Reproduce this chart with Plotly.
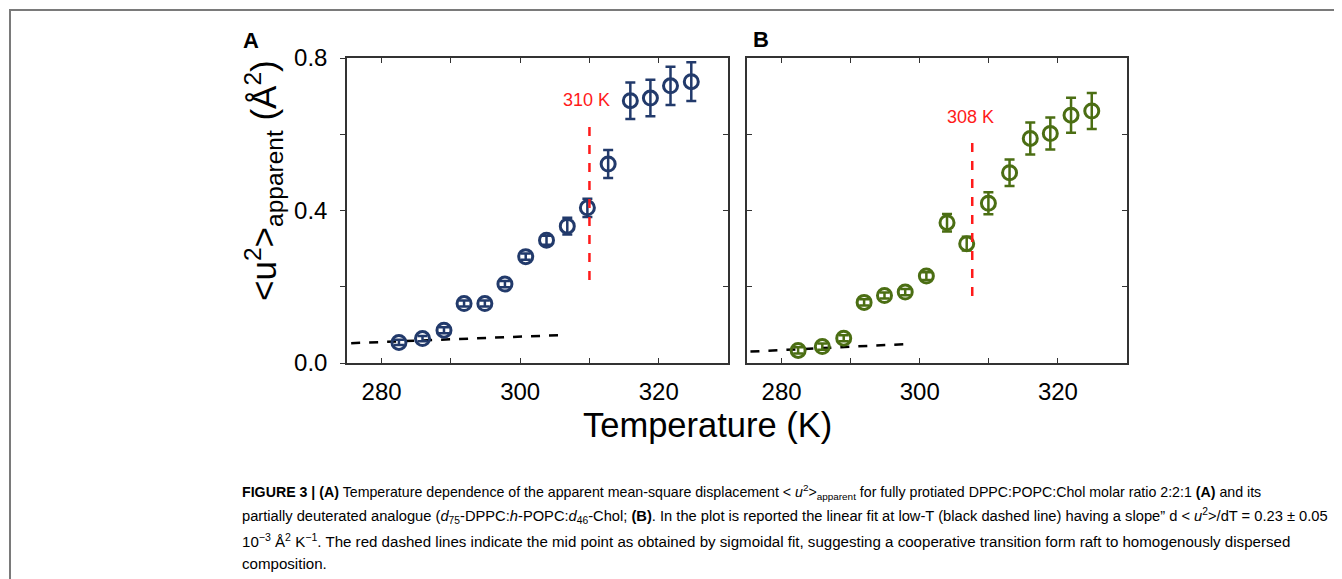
import plotly.graph_objects as go

# ---------------- data ----------------
T_A = [282.5, 285.9, 289.0, 291.9, 294.9, 297.8, 300.8, 303.8, 306.8, 309.7, 312.7, 315.9, 318.8, 321.7, 324.7]
U_A = [0.054, 0.064, 0.086, 0.156, 0.156, 0.207, 0.279, 0.322, 0.359, 0.407, 0.522, 0.688, 0.695, 0.727, 0.738]
E_A = [0.007, 0.007, 0.008, 0.008, 0.008, 0.008, 0.008, 0.012, 0.022, 0.024, 0.037, 0.048, 0.048, 0.050, 0.051]

T_B = [282.4, 285.9, 289.0, 291.95, 294.9, 297.9, 300.96, 303.95, 306.8, 309.94, 313.0, 316.0, 318.9, 321.9, 324.9]
U_B = [0.033, 0.043, 0.065, 0.159, 0.177, 0.186, 0.228, 0.368, 0.313, 0.419, 0.499, 0.589, 0.602, 0.650, 0.661]
E_B = [0.008, 0.008, 0.008, 0.008, 0.008, 0.008, 0.010, 0.023, 0.018, 0.029, 0.035, 0.042, 0.042, 0.046, 0.047]

FIT_A_T = [275.6, 305.5]
FIT_A_U = [0.052, 0.073]
FIT_B_T = [275.5, 298.4]
FIT_B_U = [0.030, 0.050]

MID_A_T = 310.0
MID_A_U = [0.218, 0.633]
MID_B_T = 307.6
MID_B_U = [0.176, 0.592]
MID_A_LABEL = "310 K"
MID_B_LABEL = "308 K"
LABEL_A_POS = (309.6, 0.690)
LABEL_B_POS = (307.4, 0.646)

X_TICKS = [280, 290, 300, 310, 320, 330]
X_TICKTEXT = ["280", "", "300", "", "320", ""]
Y_TICKS = [0.0, 0.2, 0.4, 0.6, 0.8]
Y_TICKTEXT = ["0.0", "", "0.4", "", "0.8"]

# ---------------- styling ----------------
OFF = 8                     # default page body margin
W, H = 1342 - OFF, 579 - OFF
COL_A = "#223a6b"
COL_B = "#4b6e13"
RED = "#ff1a1a"
AX = "#333333"
FONT = "Liberation Sans, Arial, sans-serif"


def px_x(p):
    return (p - OFF) / W


def px_y(p):
    return 1 - (p - OFF) / H


fig = go.Figure()


def add_panel(T, U, E, col, xa, ya, fitT, fitU, midT, midU, label, lpos):
    fig.add_trace(go.Scatter(x=fitT, y=fitU, mode="lines", xaxis=xa, yaxis=ya,
                             line=dict(color="black", width=2.5, dash="dash"),
                             showlegend=False, hoverinfo="skip"))
    fig.add_trace(go.Scatter(x=T, y=U, mode="markers", xaxis=xa, yaxis=ya,
                             error_y=dict(type="data", array=E, visible=True,
                                          color=col, thickness=2.5, width=5),
                             marker=dict(symbol="circle-open", size=14, color=col,
                                         line=dict(width=3, color=col)),
                             showlegend=False))
    fig.add_trace(go.Scatter(x=[midT, midT], y=midU, mode="lines", xaxis=xa, yaxis=ya,
                             line=dict(color=RED, width=2.5, dash="dash"),
                             showlegend=False, hoverinfo="skip"))
    fig.add_annotation(x=lpos[0], y=lpos[1], xref=xa, yref=ya, text=label,
                       xanchor="center", yanchor="middle",
                       showarrow=False, font=dict(family=FONT, size=18, color=RED))


add_panel(T_A, U_A, E_A, COL_A, "x", "y", FIT_A_T, FIT_A_U, MID_A_T, MID_A_U,
          MID_A_LABEL, LABEL_A_POS)
add_panel(T_B, U_B, E_B, COL_B, "x2", "y2", FIT_B_T, FIT_B_U, MID_B_T, MID_B_U,
          MID_B_LABEL, LABEL_B_POS)
# invisible trace to anchor the right-side tick axis of panel A
fig.add_trace(go.Scatter(x=[X_TICKS[0]], y=[Y_TICKS[0]], xaxis="x", yaxis="y3",
                         mode="markers", marker=dict(opacity=0), showlegend=False,
                         hoverinfo="skip"))

ydom = [px_y(363), px_y(58)]
xcommon = dict(range=[275, 330], tickvals=X_TICKS, ticktext=X_TICKTEXT,
               showline=True, linecolor=AX, linewidth=1.5, ticks="inside",
               ticklen=5, tickcolor=AX, tickwidth=1.2, mirror="ticks",
               showgrid=False, zeroline=False, automargin=False,
               tickfont=dict(family=FONT, size=24, color="black"),
               ticklabelstandoff=6)
ycommon = dict(range=[0, 0.8], tickvals=Y_TICKS, showline=True, linecolor=AX,
               linewidth=1.5, ticklen=5, tickcolor=AX, tickwidth=1.2,
               showgrid=False, zeroline=False, domain=ydom, automargin=False,
               tickfont=dict(family=FONT, size=24, color="black"))

fig.update_layout(
    template="none",
    width=W, height=H,
    margin=dict(l=0, r=0, t=0, b=0, pad=0, autoexpand=False),
    paper_bgcolor="white", plot_bgcolor="white",
    xaxis=dict(domain=[px_x(347), px_x(728)], anchor="y", **xcommon),
    xaxis2=dict(domain=[px_x(747), px_x(1127)], anchor="y2", **xcommon),
    yaxis=dict(anchor="x", ticktext=Y_TICKTEXT, ticks="outside", mirror=True,
               ticklabelstandoff=8, **ycommon),
    yaxis3=dict(anchor="x", overlaying="y", side="right", range=[0, 0.8],
                tickvals=Y_TICKS, ticks="inside", ticklen=5, tickcolor=AX,
                tickwidth=1.2, showticklabels=False, showline=False,
                showgrid=False, zeroline=False, automargin=False),
    yaxis2=dict(anchor="x2", ticks="inside", mirror="ticks", showticklabels=False,
                **ycommon),
)

# outer frame (left + top edges visible; right/bottom lie beyond the page)
fig.add_shape(type="rect", xref="paper", yref="paper", x0=px_x(10), x1=px_x(1400),
              y0=px_y(640), y1=px_y(10), line=dict(color="#7a7a7a", width=2),
              fillcolor="rgba(0,0,0,0)", layer="above")


def note(x, y, text, size, **kw):
    fig.add_annotation(x=px_x(x), y=px_y(y), xref="paper", yref="paper", text=text,
                       showarrow=False, xanchor=kw.pop("xanchor", "center"),
                       yanchor="middle", font=dict(family=kw.pop("family", FONT),
                                                   size=size, color="black"), **kw)


# panel letters
note(251, 40, "<b>A</b>", 22)
note(761, 39, "<b>B</b>", 22)

# axis titles
note(707, 425, "Temperature (K)", 34.5)
note(263, 181, "&lt;u<sup>2</sup>&gt;<sub>apparent</sub> (Å<sup>2</sup>)", 35, textangle=-90)

# caption
cap = [
    ("<b>FIGURE 3 | (A)</b> Temperature dependence of the apparent mean-square displacement "
     "&lt; <i>u</i><sup>2</sup>&gt;<sub>apparent</sub> for fully protiated DPPC:POPC:Chol molar "
     "ratio 2:2:1 <b>(A)</b> and its", 492, 14.2),
    ("partially deuterated analogue (<i>d</i><sub>75</sub>-DPPC:<i>h</i>-POPC:<i>d</i><sub>46</sub>-Chol; "
     "<b>(B)</b>. In the plot is reported the linear fit at low-T (black dashed line) having a slope” "
     "d &lt; <i>u</i><sup>2</sup>&gt;/dT = 0.23 ± 0.05", 516, 14.7),
    ("10<sup>−3</sup> Å<sup>2</sup> K<sup>−1</sup>. The red dashed lines indicate the mid point as "
     "obtained by sigmoidal fit, suggesting a cooperative transition form raft to homogenously "
     "dispersed", 540, 15.1),
    ("composition.", 563, 15.1),
]
for txt, yy, sz in cap:
    note(240, yy, txt, sz, xanchor="left")

fig.write_html("out.html")
